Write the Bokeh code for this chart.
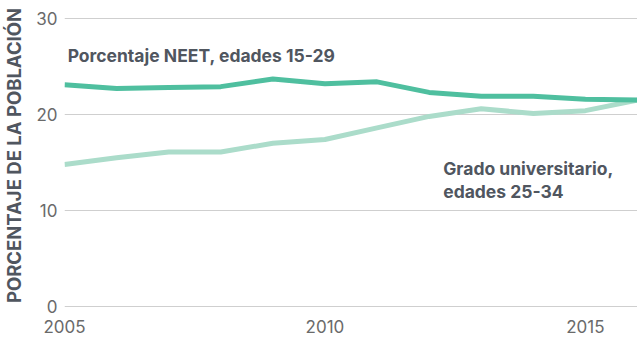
from bokeh.plotting import figure
from bokeh.models import Range1d, FixedTicker, Label
from bokeh.embed import file_html
from bokeh.resources import INLINE

years = [2005, 2006, 2007, 2008, 2009, 2010, 2011, 2012, 2013, 2014, 2015, 2016]
neet = [23.1, 22.7, 22.8, 22.9, 23.7, 23.2, 23.4, 22.3, 21.9, 21.9, 21.6, 21.5]
grado = [14.8, 15.5, 16.1, 16.1, 17.0, 17.4, 18.6, 19.8, 20.6, 20.1, 20.4, 21.5]
y_ticks = [0, 10, 20, 30]
x_ticks = [2005, 2010, 2015]
y_title = "PORCENTAJE DE LA POBLACIÓN"
neet_label = "Porcentaje NEET, edades 15-29"
grado_label = ["Grado universitario,", "edades 25-34"]

TEXT_DARK = "#50565f"
FONT = "Inter"

p = figure(
    frame_width=573, frame_height=310,
    x_range=Range1d(2005, 2016), y_range=Range1d(-0.42, 31.875),
    output_backend="svg", toolbar_location=None,
    min_border_left=61, min_border_right=0, min_border_top=0, min_border_bottom=0,
)
p.outline_line_color = None
p.background_fill_color = "white"
p.border_fill_color = "white"

# grid
p.xgrid.grid_line_color = None
p.ygrid.ticker = FixedTicker(ticks=y_ticks)
p.ygrid.grid_line_color = "#cfcfcf"
p.ygrid.grid_line_width = 1

# y axis
p.yaxis.ticker = FixedTicker(ticks=y_ticks)
p.yaxis.axis_line_color = None
p.yaxis.major_tick_line_color = None
p.yaxis.minor_tick_line_color = None
p.yaxis.major_tick_out = 0
p.yaxis.major_tick_in = 0
p.yaxis.minor_tick_out = 0
p.yaxis.major_label_text_font = FONT
p.yaxis.major_label_text_font_size = "17px"
p.yaxis.major_label_text_color = "#6a6a6a"
p.yaxis.major_label_standoff = 7
p.yaxis.axis_label = y_title
p.yaxis.axis_label_text_font = FONT
p.yaxis.axis_label_text_font_style = "bold"
p.yaxis.axis_label_text_font_size = "18.5px"
p.yaxis.axis_label_text_color = TEXT_DARK
p.yaxis.axis_label_standoff = 8

# x axis
p.xaxis.ticker = FixedTicker(ticks=x_ticks)
p.xaxis.axis_line_color = None
p.xaxis.major_tick_line_color = None
p.xaxis.minor_tick_line_color = None
p.xaxis.major_tick_out = 0
p.xaxis.major_tick_in = 0
p.xaxis.minor_tick_out = 0
p.xaxis.major_label_text_font = FONT
p.xaxis.major_label_text_font_size = "17px"
p.xaxis.major_label_text_color = "#6a6a6a"
p.xaxis.major_label_standoff = 9

# lines
p.line(years, grado, line_color="#abdcca", line_width=5, line_join="round")
p.line(years, neet, line_color="#4fbf9f", line_width=5, line_join="round")

# annotations
p.add_layout(Label(x=2005.06, y=26.1, text=neet_label, text_font=FONT,
                   text_font_style="bold", text_font_size="17.5px",
                   text_color=TEXT_DARK, text_baseline="alphabetic"))
p.add_layout(Label(x=2012.27, y=14.4, text=grado_label[0], text_font=FONT,
                   text_font_style="bold", text_font_size="17.5px",
                   text_color=TEXT_DARK, text_baseline="alphabetic"))
p.add_layout(Label(x=2012.27, y=12.0, text=grado_label[1], text_font=FONT,
                   text_font_style="bold", text_font_size="17.5px",
                   text_color=TEXT_DARK, text_baseline="alphabetic"))

open("out.html", "w").write(file_html(p, INLINE))
